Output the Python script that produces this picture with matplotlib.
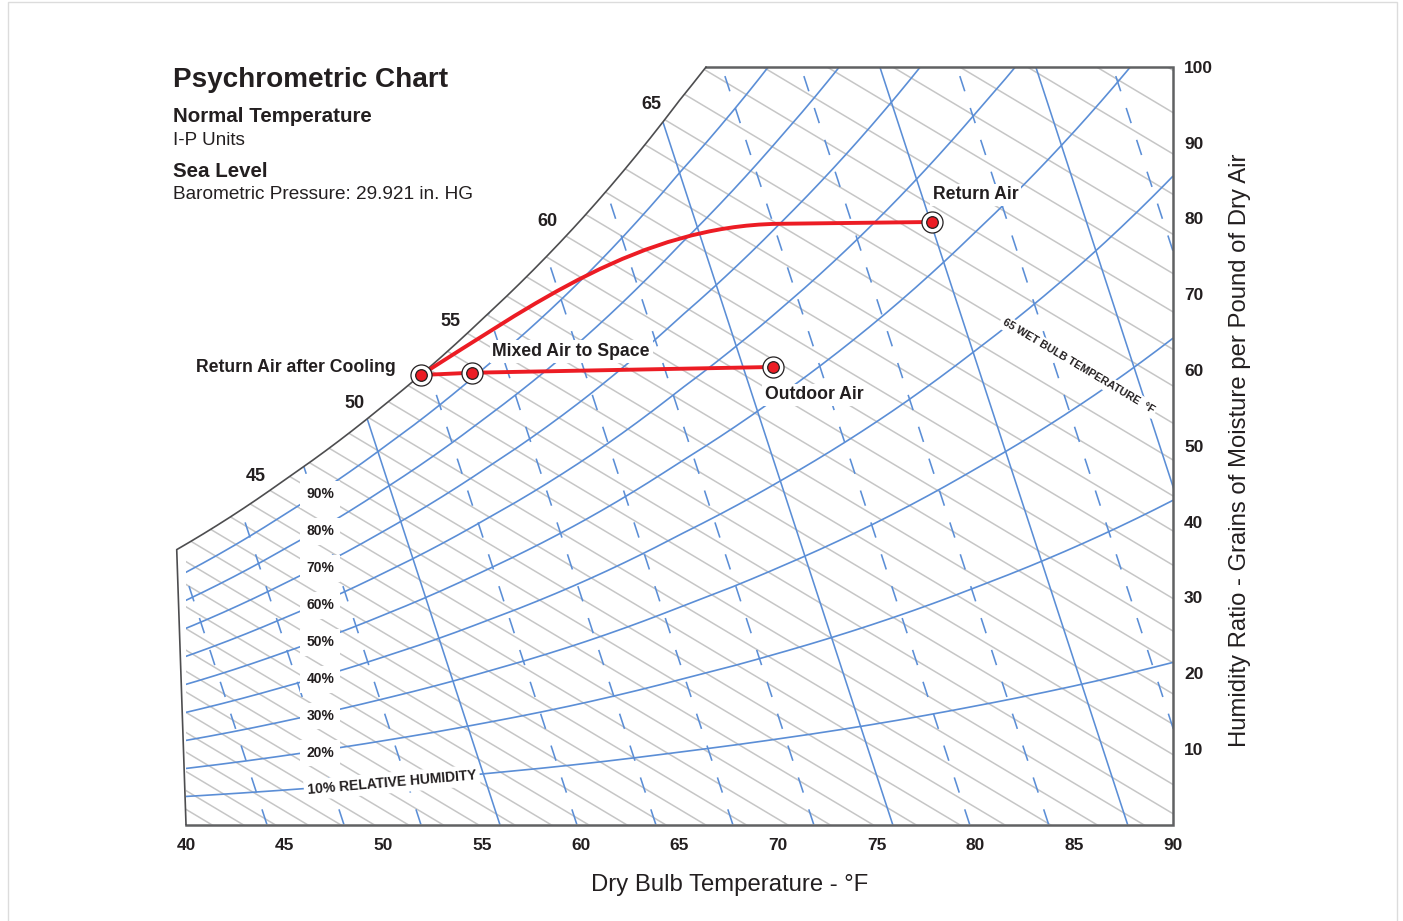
import numpy as np
import matplotlib.pyplot as plt
from matplotlib.patches import Polygon, Rectangle, PathPatch
from matplotlib.path import Path

plt.rcParams["font.family"] = ["Liberation Sans", "DejaVu Sans"]

# ---------------------------
# Values (dry bulb in °F, humidity ratio in grains/lb)
# ---------------------------
# saturation curve on the chart's dry bulb scale
sat_temp = [40, 45, 50, 55, 60, 65, 70, 75, 80, 85, 90]
sat_grains = [37.0, 45.5, 55.3, 66.7, 79.8, 95.6, 113, 133, 156.5, 183, 214]
left_edge_top = 39.53  # saturation curve meets the left border here

rh_levels = [10, 20, 30, 40, 50, 60, 70, 80, 90]

# wet bulb lines, one per °F
wb_temps = list(range(20, 80))
wb_shift = -0.75      # saturation point sits a bit left of the nominal value
wb_slope = -1.556     # grains per °F

wb_label_vals = ["45", "50", "55", "60", "65"]
wb_label_t = [43.55, 48.56, 53.42, 58.29, 63.56]
wb_label_w = [46.0, 55.6, 66.4, 79.6, 95.0]

# specific volume lines, given by the dry bulb where they meet 0 grains
vol_solid = [55.9, 75.8, 87.7, 95.6]
vol_dashed = [44.1, 48.0, 51.9, 59.8, 63.8, 67.7, 71.8, 79.7, 83.7, 91.6, 99.5]
vol_slope = -0.1255   # °F per grain

# process states
cool_t, cool_w = 51.90, 59.34
mixed_t, mixed_w = 54.51, 59.64
outdoor_t, outdoor_w = 69.74, 60.40
return_t, return_w = 77.79, 79.54
# bend of the cooling curve (bezier control points)
bend_t = [57.5, 63.0, 70.0]
bend_w = [68.5, 79.0, 79.3]

x_ticks = [40, 45, 50, 55, 60, 65, 70, 75, 80, 85, 90]
y_ticks = [10, 20, 30, 40, 50, 60, 70, 80, 90, 100]

BLUE = "#5b8ed6"
GRAY = "#c6c6c6"
EDGE = "#606163"
RED = "#ec1c24"
TXT = "#231f20"


def sat_w(t):
    t = np.atleast_1d(np.asarray(t, float))
    lw = np.log(sat_grains)
    g = np.interp(t, sat_temp, lw)
    lo = t < sat_temp[0]
    g[lo] = lw[0] + (t[lo] - sat_temp[0]) * (lw[1] - lw[0]) / 5
    return np.exp(g)


W, H = 1403, 921
fig = plt.figure(figsize=(W / 100, H / 100), dpi=100)
ax = fig.add_axes([186 / W, (H - 824.5) / H, 987 / W, 757.5 / H])
ax.set_xlim(40, 90)
ax.set_ylim(0, 100)
for s in ax.spines.values():
    s.set_visible(False)

# chart outline / clip region
t_top = float(np.interp(np.log(100), np.log(sat_grains), sat_temp))
ts = np.linspace(t_top, left_edge_top, 200)
sat_pts = list(zip(ts, sat_w(ts)))
verts = [(40, 0), (90, 0), (90, 100), (t_top, 100)] + sat_pts
clip = Polygon(verts, closed=True, transform=ax.transData,
               facecolor="none", edgecolor="none")
ax.add_patch(clip)

# wet bulb lines
for n in wb_temps:
    x0 = n + wb_shift
    w0 = sat_w(x0)[0]
    t = np.array([x0 - 4, x0 - w0 / wb_slope + 1])
    ln, = ax.plot(t, w0 + wb_slope * (t - x0), color=GRAY, lw=1.1, zorder=1)
    ln.set_clip_path(clip)

# specific volume lines
ww = np.array([0, 110])
for t0 in vol_solid:
    ln, = ax.plot(t0 + vol_slope * ww, ww, color=BLUE, lw=1.15, zorder=2)
    ln.set_clip_path(clip)
for t0 in vol_dashed:
    ln, = ax.plot(t0 + vol_slope * ww, ww, color=BLUE, lw=1.15, zorder=2,
                  linestyle=(0, (10, 11)))
    ln.set_clip_path(clip)

# relative humidity curves
tt = np.linspace(38.5, 90.5, 400)
for rh in rh_levels:
    ln, = ax.plot(tt, rh / 100 * sat_w(tt), color=BLUE, lw=1.2, zorder=2)
    ln.set_clip_path(clip)

# outline
ax.plot([t_top, 90, 90, 40], [100, 100, 0, 0], color=EDGE, lw=1.8,
        zorder=3, clip_on=False, solid_joinstyle="miter")
ax.plot([40] + [p[0] for p in sat_pts[::-1]] + [t_top],
        [0] + [p[1] for p in sat_pts[::-1]] + [100],
        color="#4d4d4f", lw=1.2, zorder=3, clip_on=False)

# RH labels
box = dict(facecolor="white", edgecolor="none", pad=4.5)
for rh in rh_levels[1:]:
    ax.text(46.8, rh / 100 * sat_w(46.8)[0] - 0.35, f"{rh}%", fontsize=10,
            fontweight="bold", color=TXT, ha="center", va="center",
            bbox=box, zorder=6)
ax.text(46.15, 0.1 * sat_w(46.15)[0] - 0.2, "10% RELATIVE HUMIDITY",
        fontsize=10, fontweight="bold", color=TXT, ha="left", va="center",
        rotation=5, rotation_mode="anchor",
        bbox=dict(facecolor="white", edgecolor="none", pad=2.5), zorder=6)

# wet bulb labels
for lab, t, w in zip(wb_label_vals, wb_label_t, wb_label_w):
    ax.text(t, w, lab, fontsize=13, fontweight="bold", color=TXT,
            ha="center", va="center", zorder=6)
ax.text(85.19, 60.5, "65 WET BULB TEMPERATURE  °F", fontsize=7.8,
        fontweight="bold", color=TXT, ha="center", va="center",
        rotation=-30.8, rotation_mode="anchor",
        bbox=dict(facecolor="white", edgecolor="none", pad=2), zorder=6)

# process lines
curve = Path([(cool_t, cool_w)] + list(zip(bend_t, bend_w)) + [(return_t, return_w)],
             [Path.MOVETO, Path.CURVE4, Path.CURVE4, Path.CURVE4, Path.LINETO])
ax.add_patch(PathPatch(curve, facecolor="none", edgecolor=RED, lw=2.8,
                       capstyle="round", joinstyle="round", zorder=4))
ax.plot([cool_t, mixed_t, outdoor_t], [cool_w, mixed_w, outdoor_w],
        color=RED, lw=2.8, zorder=4, solid_capstyle="round")
pts_t = [cool_t, mixed_t, outdoor_t, return_t]
pts_w = [cool_w, mixed_w, outdoor_w, return_w]
ax.scatter(pts_t, pts_w, s=230, facecolor="white", edgecolor="#231f20",
           lw=0.9, zorder=5)
ax.scatter(pts_t, pts_w, s=70, facecolor=RED, edgecolor="#231f20",
           lw=0.9, zorder=5)

pt_labels = ["Return Air after Cooling", "Mixed Air to Space", "Outdoor Air",
             "Return Air"]
offsets = [(-25, 7), (20, 21), (-8, -28), (1, 27)]
aligns = ["right", "left", "left", "left"]
for lab, t, w, off, ha in zip(pt_labels, pts_t, pts_w, offsets, aligns):
    ax.annotate(lab, (t, w), xytext=off, textcoords="offset pixels",
                fontsize=12.7, fontweight="bold", color=TXT, ha=ha, va="center",
                bbox=dict(facecolor="white", edgecolor="none", pad=2), zorder=6)

# axes ticks
ax.set_xticks(x_ticks)
ax.set_xticklabels([str(v) for v in x_ticks], fontsize=12.5, fontweight="bold",
                   color=TXT)
ax.yaxis.tick_right()
ax.set_yticks(y_ticks)
ax.set_yticklabels([str(v) for v in y_ticks], fontsize=12.5, fontweight="bold",
                   color=TXT)
ax.tick_params(axis="x", length=0, pad=10)
ax.tick_params(axis="y", length=0, pad=8)

fig.text(729.5 / W, 1 - 885 / H, "Dry Bulb Temperature - °F", fontsize=17.2,
         color=TXT, ha="center", va="center")
fig.text(1240 / W, 1 - 450 / H,
         "Humidity Ratio - Grains of Moisture per Pound of Dry Air",
         fontsize=17.2, color=TXT, ha="center", va="center", rotation=90)

# header
fig.text(173 / W, 1 - 87 / H, "Psychrometric Chart", fontsize=20.1,
         fontweight="bold", color=TXT, va="baseline")
fig.text(173 / W, 1 - 122 / H, "Normal Temperature", fontsize=14.8,
         fontweight="bold", color=TXT, va="baseline")
fig.text(173 / W, 1 - 145 / H, "I-P Units", fontsize=13.6, color=TXT,
         va="baseline")
fig.text(173 / W, 1 - 177 / H, "Sea Level", fontsize=14.8, fontweight="bold",
         color=TXT, va="baseline")
fig.text(173 / W, 1 - 199 / H, "Barometric Pressure: 29.921 in. HG",
         fontsize=13.7, color=TXT, va="baseline")

fig.patches.append(Rectangle((8 / W, -0.01), 1389 / W, (H - 2) / H + 0.01,
                             transform=fig.transFigure, fill=False,
                             edgecolor="#dcdcdc", lw=1))

fig.savefig("out.png", dpi=100)
